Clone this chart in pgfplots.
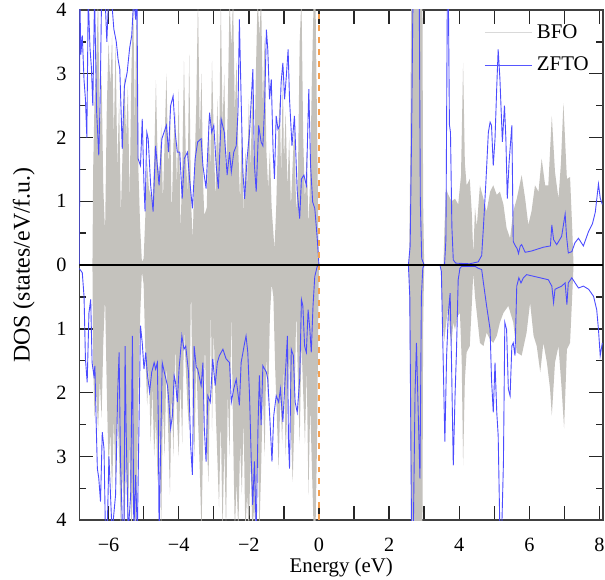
\documentclass[border=0pt]{standalone}
\usepackage{fontspec}
\setmainfont{Liberation Serif}
\usepackage{pgfplots}
\pgfplotsset{compat=1.18}
\definecolor{bfogray}{RGB}{196,194,189}
\definecolor{fermi}{RGB}{245,160,80}
\definecolor{ztfoblue}{RGB}{30,30,255}

\begin{document}
\begin{tikzpicture}
\begin{axis}[scale only axis, width=263.5pt, height=256.8pt,
  xmin=-6.83, xmax=8.1, ymin=-4, ymax=4,
  xtick={-6,...,8},
  xticklabels={−6,,−4,,−2,,0,,2,,4,,6,,8},
  ytick={-4,...,4},
  yticklabels={4,3,2,1,0,1,2,3,4},
  minor ytick={-3.5,-2.5,...,3.5},
  major tick length=7pt, minor tick length=3.5pt,
  tick style={black!85, line width=0.7pt},
  axis line style={black!75, line width=0.8pt},
  tick label style={font=\fontsize{10.2}{12}\selectfont},
  xticklabel style={yshift=-5.5pt}, yticklabel style={xshift=-3pt},
  xlabel={Energy (eV)}, ylabel={DOS (states/eV/f.u.)},
  xlabel style={yshift=3.5pt, font=\fontsize{10.5}{12.6}\selectfont},
  ylabel style={yshift=4pt, font=\fontsize{12}{14}\selectfont},
  legend style={draw=none, fill=none, at={(1,1)}, anchor=north east,
                xshift=-2pt, yshift=-3pt, row sep=4pt,
                font=\fontsize{10.5}{12.6}\selectfont},
  legend cell align=left,
  legend image code/.code={\draw[#1] (0pt,0pt) -- (24pt,0pt);}]

\addlegendimage{color=gray!30, line width=0.5pt}
\addlegendentry{BFO}
\addlegendimage{color=ztfoblue!75, line width=0.5pt}
\addlegendentry{ZFTO}

% BFO, spin up
\addplot[fill=bfogray, draw=none, forget plot] coordinates {
 (-6.83,0) (-6.46,0) (-6.44,1.5) (-6.40,2.6) (-6.35,3.2) (-6.30,4.2) (-6.25,2.0)
 (-6.20,3.0) (-6.15,1.2) (-6.10,0.5) (-6.05,2.5) (-6.00,3.5) (-5.95,2.8)
 (-5.90,3.6) (-5.85,2.0) (-5.80,3.5) (-5.75,1.5) (-5.70,2.6) (-5.65,0.8)
 (-5.60,1.8) (-5.55,3.0) (-5.50,2.0) (-5.45,2.8) (-5.40,1.0) (-5.35,3.0)
 (-5.30,4.2) (-5.25,2.2) (-5.20,4.2) (-5.15,1.5) (-5.10,0.6) (-5.05,0.05)
 (-5.00,0.1) (-4.95,0.8) (-4.90,1.6) (-4.85,1.2) (-4.80,1.1) (-4.75,1.0)
 (-4.70,1.6) (-4.65,2.9) (-4.60,1.6) (-4.55,1.4) (-4.50,2.2) (-4.45,1.0)
 (-4.40,2.0) (-4.35,3.0) (-4.30,1.5) (-4.25,2.5) (-4.20,0.8) (-4.15,1.9)
 (-4.10,2.4) (-4.05,1.2) (-4.00,2.76) (-3.95,0.5) (-3.90,1.5) (-3.85,3.2)
 (-3.80,1.8) (-3.75,1.1) (-3.70,3.3) (-3.65,1.0) (-3.60,0.4) (-3.55,1.5)
 (-3.50,2.5) (-3.45,4.2) (-3.40,2.0) (-3.35,3.0) (-3.30,1.2) (-3.27,0.78)
 (-3.20,0.9) (-3.15,2.3) (-3.10,1.5) (-3.05,3.2) (-3.00,2.0) (-2.95,1.0)
 (-2.90,2.6) (-2.85,1.6) (-2.80,4.2) (-2.75,2.2) (-2.70,3.0) (-2.65,1.3)
 (-2.60,2.5) (-2.55,4.2) (-2.50,3.4) (-2.45,4.2) (-2.40,2.4) (-2.35,3.2)
 (-2.30,1.8) (-2.25,1.0) (-2.20,2.2) (-2.15,0.8) (-2.10,1.8) (-2.05,1.2)
 (-2.00,2.6) (-1.95,1.5) (-1.90,2.8) (-1.85,1.4) (-1.80,3.0) (-1.75,4.2)
 (-1.70,3.6) (-1.65,4.2) (-1.60,2.5) (-1.55,3.6) (-1.50,1.8) (-1.45,1.2)
 (-1.40,1.8) (-1.35,0.9) (-1.30,0.5) (-1.27,0.25) (-1.22,0.9) (-1.17,2.0)
 (-1.12,2.6) (-1.08,1.4) (-1.03,3.0) (-1.00,1.6) (-0.95,2.4) (-0.90,1.2)
 (-0.85,2.0) (-0.80,0.9) (-0.75,1.6) (-0.70,2.2) (-0.65,0.8) (-0.60,1.4)
 (-0.55,3.5) (-0.50,4.2) (-0.45,2.0) (-0.40,1.0) (-0.35,1.8) (-0.30,0.6)
 (-0.25,1.4) (-0.20,3.0) (-0.15,4.2) (-0.10,4.2) (-0.05,2.0) (-0.02,0.5)
 (0.00,0) (2.57,0) (2.60,1.5) (2.63,4.2) (2.95,4.2) (2.97,1.0) (3.00,0)
 (3.55,0) (3.58,0.6) (3.62,1.2) (3.69,1.1) (3.78,1.0) (3.88,1.04) (3.97,0.95)
 (4.05,1.4) (4.11,3.17) (4.16,1.6) (4.21,1.25) (4.30,1.35) (4.36,0.8)
 (4.40,0.16) (4.45,0.9) (4.50,0.6) (4.59,1.25) (4.69,1.04) (4.78,0.84)
 (4.88,1.15) (4.97,1.25) (5.07,1.1) (5.16,1.15) (5.26,0.95) (5.35,0.58)
 (5.45,0.42) (5.54,0.84) (5.64,1.04) (5.78,1.41) (5.88,1.04) (5.97,0.63)
 (6.06,0.84) (6.16,1.25) (6.26,1.15) (6.35,1.67) (6.45,1.25) (6.54,1.25)
 (6.64,2.34) (6.73,1.46) (6.83,1.04) (6.90,1.6) (6.97,2.54) (7.07,1.35)
 (7.16,1.38) (7.22,0.6) (7.26,0) (8.1,0)} \closedcycle;

% BFO, spin down
\addplot[fill=bfogray, draw=none, forget plot] coordinates {
 (-6.83,0) (-6.46,0) (-6.44,-1.5) (-6.40,-2.4) (-6.35,-2.0) (-6.30,-2.6)
 (-6.25,-1.8) (-6.20,-2.4) (-6.15,-1.2) (-6.10,-0.5) (-6.05,-2.0) (-6.00,-3.2)
 (-5.95,-2.6) (-5.90,-3.6) (-5.85,-2.4) (-5.80,-3.5) (-5.75,-2.2) (-5.70,-3.0)
 (-5.65,-4.2) (-5.60,-3.2) (-5.55,-4.2) (-5.50,-3.0) (-5.45,-4.2) (-5.40,-2.8)
 (-5.35,-4.2) (-5.30,-3.4) (-5.25,-4.2) (-5.20,-3.8) (-5.15,-2.0) (-5.10,-0.8)
 (-5.05,-0.1) (-5.00,-0.3) (-4.95,-1.4) (-4.90,-2.2) (-4.85,-1.6) (-4.80,-2.8)
 (-4.75,-1.9) (-4.70,-3.0) (-4.65,-2.4) (-4.60,-3.4) (-4.55,-2.6) (-4.50,-4.2)
 (-4.45,-2.2) (-4.40,-3.0) (-4.35,-1.5) (-4.30,-2.6) (-4.25,-3.6) (-4.20,-2.0)
 (-4.15,-3.0) (-4.10,-1.2) (-4.05,-2.4) (-4.00,-3.0) (-3.95,-1.8) (-3.90,-2.8)
 (-3.85,-1.0) (-3.80,-1.6) (-3.75,-2.2) (-3.70,-2.6) (-3.65,-0.3) (-3.60,-2.2)
 (-3.55,-3.0) (-3.50,-1.4) (-3.45,-2.4) (-3.40,-3.2) (-3.35,-4.2) (-3.30,-2.6)
 (-3.25,-1.2) (-3.20,-2.8) (-3.15,-3.4) (-3.08,-0.6) (-3.05,-2.6) (-3.00,-1.0)
 (-2.95,-2.2) (-2.90,-3.0) (-2.85,-3.8) (-2.80,-2.4) (-2.75,-4.2) (-2.70,-2.8)
 (-2.65,-4.2) (-2.60,-2.0) (-2.55,-3.0) (-2.50,-0.7) (-2.45,-2.6) (-2.40,-4.2)
 (-2.35,-3.4) (-2.30,-4.2) (-2.25,-2.8) (-2.20,-3.6) (-2.15,-2.4) (-2.10,-4.2)
 (-2.05,-3.6) (-2.00,-4.2) (-1.95,-3.0) (-1.90,-4.2) (-1.85,-3.8) (-1.80,-4.2)
 (-1.75,-2.6) (-1.70,-4.2) (-1.65,-3.2) (-1.60,-2.0) (-1.55,-3.0) (-1.50,-1.4)
 (-1.45,-2.2) (-1.40,-0.8) (-1.35,-0.3) (-1.30,-0.5) (-1.25,-1.6) (-1.20,-2.4)
 (-1.15,-3.2) (-1.10,-2.0) (-1.05,-2.8) (-1.00,-1.6) (-0.95,-3.0) (-0.90,-2.2)
 (-0.85,-1.4) (-0.80,-2.6) (-0.75,-3.4) (-0.70,-2.4) (-0.65,-0.7) (-0.60,-1.8)
 (-0.55,-2.8) (-0.50,-1.2) (-0.45,-2.0) (-0.40,-2.8) (-0.35,-1.6) (-0.30,-3.6)
 (-0.25,-2.2) (-0.20,-3.2) (-0.15,-4.2) (-0.10,-4.2) (-0.05,-2.6) (-0.02,-0.8)
 (0.00,0) (2.57,0) (2.60,-2.0) (2.63,-4.2) (2.95,-4.2) (2.97,-1.0) (3.00,0)
 (3.48,0) (3.52,-0.8) (3.57,-1.2) (3.63,-0.9) (3.69,-0.64) (3.74,-1.1)
 (3.78,-1.22) (3.83,-0.9) (3.88,-1.01) (3.95,-0.8) (4.02,-0.75) (4.07,-1.5)
 (4.11,-3.14) (4.16,-1.8) (4.21,-1.37) (4.30,-1.27) (4.36,-0.6) (4.40,-0.12)
 (4.45,-0.5) (4.50,-0.75) (4.59,-1.22) (4.69,-1.27) (4.78,-1.06) (4.88,-1.17)
 (4.97,-1.22) (5.07,-1.11) (5.16,-0.90) (5.26,-0.75) (5.40,-0.64) (5.54,-0.90)
 (5.64,-1.37) (5.78,-1.42) (5.92,-1.06) (6.02,-0.59) (6.12,-1.11) (6.21,-1.27)
 (6.31,-1.68) (6.40,-1.22) (6.50,-1.53) (6.59,-1.94) (6.64,-2.36) (6.73,-1.53)
 (6.83,-1.27) (6.92,-1.94) (6.99,-2.56) (7.07,-1.32) (7.16,-1.22) (7.22,-0.5)
 (7.26,0) (8.1,0)} \closedcycle;

% ZFTO, spin up
\addplot[ztfoblue!80, line width=0.45pt, forget plot] coordinates {
 (-6.83,0) (-6.82,4.2) (-6.79,3.3) (-6.75,3.6) (-6.70,2.9) (-6.66,2.6)
 (-6.62,2.0) (-6.58,4.2) (-6.53,3.4) (-6.49,3.1) (-6.45,2.5) (-6.40,4.2)
 (-6.34,2.4) (-6.28,1.72) (-6.24,2.6) (-6.20,4.2) (-6.10,4.2) (-6.05,3.5)
 (-6.00,4.2) (-5.92,4.2) (-5.85,3.7) (-5.78,3.5) (-5.73,3.23) (-5.68,3.07)
 (-5.61,1.82) (-5.55,2.8) (-5.47,3.02) (-5.40,3.4) (-5.34,3.6) (-5.28,4.2)
 (-5.23,3.85) (-5.19,4.2) (-5.16,1.67) (-5.09,1.56) (-5.04,2.29) (-4.99,1.25)
 (-4.96,0.84) (-4.91,2.08) (-4.87,1.98) (-4.80,1.25) (-4.73,0.84) (-4.66,1.87)
 (-4.61,1.56) (-4.56,1.25) (-4.48,1.98) (-4.42,2.08) (-4.35,2.19) (-4.29,1.77)
 (-4.23,2.50) (-4.16,2.65) (-4.10,2.08) (-4.04,1.77) (-3.97,1.77) (-3.90,1.04)
 (-3.84,1.67) (-3.75,1.77) (-3.69,1.35) (-3.61,0.89) (-3.53,1.67) (-3.46,1.93)
 (-3.36,1.98) (-3.31,1.56) (-3.22,1.20) (-3.12,2.39) (-3.06,2.08) (-3.00,2.19)
 (-2.93,1.56) (-2.87,1.20) (-2.79,2.29) (-2.70,2.08) (-2.62,1.41) (-2.55,1.77)
 (-2.50,1.46) (-2.43,1.77) (-2.36,1.87) (-2.31,2.39) (-2.27,3.85) (-2.22,2.60)
 (-2.17,1.46) (-2.12,1.04) (-2.05,1.67) (-1.98,2.08) (-1.93,2.60) (-1.885,3.07)
 (-1.84,1.56) (-1.79,1.15) (-1.72,2.19) (-1.65,1.93) (-1.60,1.87) (-1.55,2.50)
 (-1.50,3.69) (-1.46,3.38) (-1.41,2.60) (-1.36,2.91) (-1.31,1.82) (-1.27,1.35)
 (-1.22,2.34) (-1.17,2.13) (-1.12,2.19) (-1.08,2.86) (-1.03,3.17) (-0.98,2.60)
 (-0.93,2.97) (-0.88,3.38) (-0.84,2.60) (-0.77,1.87) (-0.70,2.34) (-0.62,1.15)
 (-0.55,0.73) (-0.50,1.35) (-0.43,1.41) (-0.36,1.25) (-0.29,2.76) (-0.24,1.56)
 (-0.18,0.99) (-0.12,0.89) (-0.05,0.42) (0.00,0)
 (2.55,0) (2.60,0.3) (2.64,2.0) (2.68,4.2) (2.86,4.2) (2.89,1.0) (2.93,0.1)
 (3.00,0) (3.58,0) (3.62,0.4) (3.66,4.2) (3.69,4.2) (3.72,2.2) (3.75,2.08)
 (3.79,0.6) (3.83,0.08) (3.90,0.03) (4.30,0.02) (4.54,0.05) (4.64,0.15)
 (4.69,0.6) (4.76,1.3) (4.83,2.08) (4.88,2.24) (4.92,2.19) (4.97,1.56)
 (5.02,1.98) (5.07,2.8) (5.11,3.38) (5.16,2.92) (5.23,1.93) (5.29,2.5)
 (5.33,1.98) (5.37,1.04) (5.42,1.6) (5.50,2.19) (5.54,0.37) (5.60,0.30)
 (5.65,0.26) (5.69,0.18) (5.74,0.30) (5.78,0.32) (5.88,0.20) (6.06,0.22)
 (6.40,0.28) (6.60,0.30) (6.64,0.63) (6.69,0.40) (6.78,0.32) (6.92,0.45)
 (7.02,0.80) (7.06,0.45) (7.11,0.19) (7.21,0.21) (7.30,0.35) (7.40,0.42)
 (7.54,0.30) (7.69,0.53) (7.80,0.65) (7.88,0.83) (7.97,1.27) (8.02,1.05)
 (8.08,0.95)};

% ZFTO, spin down
\addplot[ztfoblue!80, line width=0.45pt, forget plot] coordinates {
 (-6.84,-0.05) (-6.75,-0.12) (-6.70,-0.49) (-6.66,-1.47) (-6.61,-1.84)
 (-6.56,-0.75) (-6.51,-0.54) (-6.47,-1.53) (-6.42,-1.73) (-6.39,-1.58)
 (-6.35,-2.56) (-6.32,-3.19) (-6.28,-3.34) (-6.23,-3.71) (-6.18,-2.62)
 (-6.13,-2.88) (-6.09,-4.2) (-6.04,-4.2) (-5.99,-3.0) (-5.90,-4.2) (-5.80,-3.6)
 (-5.74,-2.0) (-5.70,-1.37) (-5.66,-3.08) (-5.60,-4.2) (-5.56,-4.2) (-5.53,-1.27)
 (-5.50,-2.56) (-5.44,-4.2) (-5.37,-3.60) (-5.32,-1.11) (-5.28,-4.2) (-5.23,-3.29)
 (-5.18,-4.2) (-5.09,-0.95) (-5.04,-1.22) (-4.99,-1.63) (-4.94,-1.37) (-4.90,-1.68)
 (-4.83,-1.99) (-4.77,-1.68) (-4.70,-1.53) (-4.66,-1.63) (-4.61,-1.53) (-4.58,-2.5)
 (-4.56,-4.2) (-4.52,-3.0) (-4.47,-1.53) (-4.39,-1.73) (-4.32,-1.89) (-4.28,-2.15)
 (-4.23,-2.56) (-4.18,-2.36) (-4.13,-1.73) (-4.09,-1.84) (-4.04,-2.15) (-3.99,-1.63)
 (-3.91,-1.11) (-3.85,-1.32) (-3.80,-1.27) (-3.72,-1.68) (-3.66,-2.82) (-3.61,-3.29)
 (-3.56,-1.27) (-3.50,-1.6) (-3.46,-1.63) (-3.36,-1.89) (-3.31,-1.53) (-3.27,-2.56)
 (-3.22,-3.08) (-3.17,-2.05) (-3.10,-2.15) (-3.03,-1.47) (-2.96,-1.89) (-2.90,-1.53)
 (-2.84,-1.42) (-2.74,-1.32) (-2.65,-1.47) (-2.55,-1.53) (-2.50,-2.15) (-2.43,-1.94)
 (-2.36,-1.79) (-2.27,-2.20) (-2.22,-1.53) (-2.12,-1.22) (-2.08,-1.11) (-2.03,-1.37)
 (-1.98,-2.05) (-1.93,-3.08) (-1.89,-3.76) (-1.84,-3.08) (-1.79,-4.2) (-1.74,-2.56)
 (-1.70,-1.73) (-1.65,-2.51) (-1.60,-1.58) (-1.50,-1.68) (-1.46,-1.79) (-1.41,-2.31)
 (-1.34,-3.08) (-1.29,-2.36) (-1.22,-2.05) (-1.15,-2.15) (-1.10,-1.94) (-1.03,-2.46)
 (-0.96,-1.73) (-0.90,-1.11) (-0.87,-2.77) (-0.84,-3.19) (-0.79,-1.32) (-0.73,-1.42)
 (-0.68,-2.15) (-0.62,-2.31) (-0.55,-1.79) (-0.50,-0.54) (-0.46,-0.64) (-0.41,-1.27)
 (-0.36,-1.37) (-0.31,-0.70) (-0.26,-1.01) (-0.22,-1.37) (-0.17,-0.64) (-0.12,-0.18)
 (-0.05,-0.02) (0.00,0)
 (2.55,0) (2.59,-0.5) (2.64,-4.2) (2.69,-4.2) (2.74,-2.0) (2.78,-1.22)
 (2.83,-2.31) (2.88,-3.35) (2.92,-0.5) (2.96,-0.05) (3.00,0) (3.45,0)
 (3.49,-0.1) (3.59,-2.77) (3.64,-1.42) (3.69,-0.75) (3.74,-0.44) (3.78,-1.53)
 (3.83,-3.14) (3.88,-2.05) (3.92,-1.37) (3.97,-0.23) (4.02,-0.05) (4.07,-0.02)
 (4.45,-0.02) (4.54,-0.05) (4.64,-0.07) (4.69,-0.28) (4.78,-0.64) (4.88,-1.01)
 (4.92,-1.79) (4.97,-2.31) (5.02,-1.53) (5.07,-2.31) (5.11,-2.67) (5.16,-4.2)
 (5.21,-4.2) (5.26,-3.1) (5.30,-0.90) (5.35,-1.01) (5.40,-1.94) (5.45,-2.05)
 (5.50,-1.27) (5.54,-1.22) (5.59,-1.42) (5.64,-0.33) (5.70,-0.20) (5.76,-0.28)
 (5.83,-0.20) (5.92,-0.15) (6.54,-0.23) (6.64,-0.33) (6.69,-0.59) (6.73,-0.38)
 (6.92,-0.33) (7.02,-0.28) (7.07,-0.62) (7.11,-0.28) (7.21,-0.20) (7.40,-0.36)
 (7.54,-0.33) (7.69,-0.38) (7.83,-0.49) (7.92,-0.70) (7.97,-1.01) (8.02,-1.42)
 (8.08,-1.22)};

% Fermi level and zero line
\addplot[fermi, dashed, line width=0.8pt, forget plot] coordinates {(0,-4) (0,4)};
\addplot[black, line width=0.6pt, forget plot] coordinates {(-6.83,0) (8.1,0)};
\end{axis}
\pgfresetboundingbox
\useasboundingbox ([shift={(-40pt,-30pt)}]current axis.south west)
  rectangle ([shift={(1pt,5pt)}]current axis.north east);
\end{tikzpicture}
\end{document}
